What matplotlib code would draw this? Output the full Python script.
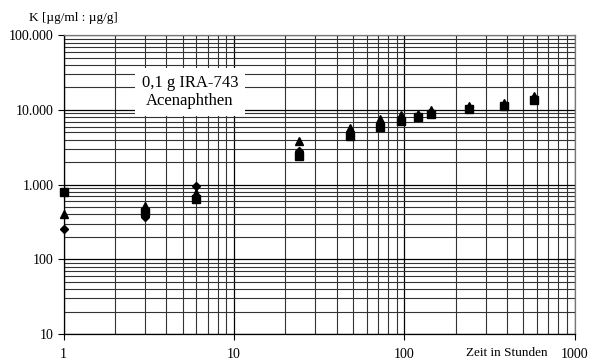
import matplotlib.pyplot as plt
from matplotlib.ticker import LogLocator, FuncFormatter, NullFormatter

# Messzeiten in Stunden
zeit = [1, 3, 6, 24, 48, 72, 96, 120, 144, 240, 384, 576]
# K-Werte der drei Versuchsreihen
k_raute = [253, 370, 970, 2800, 5000, 6650, 7800, 8300, 9300, 10600, 11800, 14400]
k_dreieck = [402, 519, 767, 3880, 5730, 7580, 8570, 8900, 9900, 11200, 12300, 15200]
k_quadrat = [798, 431, 638, 2450, 4490, 5920, 7130, 8060, 8970, 10200, 11300, 13800]

plt.rcParams['font.family'] = ['Liberation Serif', 'DejaVu Serif']

fig = plt.figure(figsize=(5.95, 3.6), dpi=100)
ax = fig.add_axes([0.107, 0.072, 0.859, 0.83])

ax.set_xscale('log')
ax.set_yscale('log')
ax.set_xlim(1, 1000)
ax.set_ylim(10, 100000)

ax.xaxis.set_major_locator(LogLocator(base=10, numticks=10))
ax.xaxis.set_minor_locator(LogLocator(base=10, subs=range(2, 10), numticks=20))
ax.yaxis.set_major_locator(LogLocator(base=10, numticks=10))
ax.yaxis.set_minor_locator(LogLocator(base=10, subs=range(2, 10), numticks=20))

def tausender(v, pos):
    return f"{int(round(v)):,}".replace(",", ".")

ax.xaxis.set_major_formatter(FuncFormatter(lambda v, p: f"{int(round(v))}"))
ax.yaxis.set_major_formatter(FuncFormatter(tausender))
ax.xaxis.set_minor_formatter(NullFormatter())
ax.yaxis.set_minor_formatter(NullFormatter())

ax.grid(True, which='major', color='black', linewidth=0.9)
ax.grid(True, which='minor', color='#333333', linewidth=0.8)
ax.set_axisbelow(True)

ax.tick_params(which='major', length=4, width=0.8, labelsize=10, color='black')
ax.tick_params(axis='x', which='major', pad=6)
ax.tick_params(axis='y', which='major', pad=3)
ax.tick_params(which='minor', length=0)
for s in ax.spines.values():
    s.set_linewidth(0.9)
ax.spines['top'].set_color('#777777')
ax.spines['right'].set_color('#777777')

ax.plot(zeit, k_raute, linestyle='none', marker='D', markersize=4, color='black', clip_on=False)
ax.plot(zeit, k_dreieck, linestyle='none', marker='^', markersize=6, color='black', clip_on=False)
ax.plot(zeit, k_quadrat, linestyle='none', marker='s', markersize=6, color='black', clip_on=False)

ax.text(5.5, 17400, "0,1 g IRA-743\nAcenaphthen", ha='center', va='center', fontsize=12,
        linespacing=1.15, bbox=dict(facecolor='white', edgecolor='none', pad=5))

fig.text(0.048, 0.95, "K [µg/ml : µg/g]", fontsize=9.5, ha='left', va='center')
fig.text(0.851, 0.019, "Zeit in Stunden", fontsize=9.5, ha='center', va='center')

fig.savefig("out.png", dpi=100)
